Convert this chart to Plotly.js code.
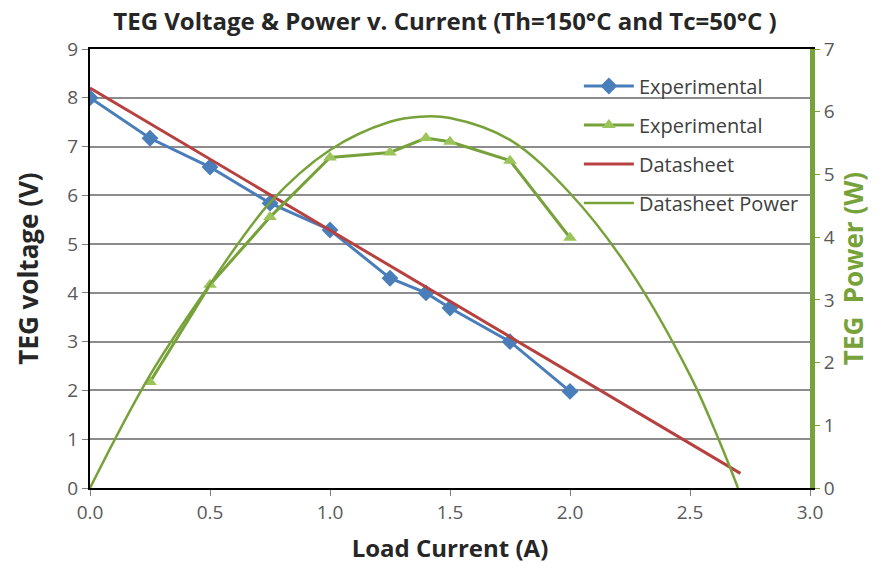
<!DOCTYPE html>
<html>
<head>
<meta charset="utf-8">
<script src="https://cdn.plot.ly/plotly-3.0.1.min.js"></script>
<style>html,body{margin:0;padding:0;background:#fff}#chart{width:890px;height:569px}</style>
</head>
<body>
<div id="chart"></div>
<script>
// Experimental voltage (left axis)
const expCurrentV = [0, 0.25, 0.5, 0.75, 1.0, 1.25, 1.4, 1.5, 1.75, 2.0];
const expVoltage  = [8.0, 7.17, 6.58, 5.84, 5.29, 4.3, 4.0, 3.69, 3.0, 1.98];
// Experimental power (right axis)
const expCurrentP = [0.25, 0.5, 0.75, 1.0, 1.25, 1.4, 1.5, 1.75, 2.0];
const expPower    = [1.69, 3.24, 4.32, 5.27, 5.35, 5.58, 5.52, 5.22, 3.99];
// Datasheet voltage (left axis)
const dsCurrentV = [0, 2.71];
const dsVoltage  = [8.2, 0.3];
// Datasheet power (right axis)
const dsCurrentP = [0, 0.25, 0.5, 0.75, 1.0, 1.25, 1.375, 1.5, 1.75, 2.0, 2.25, 2.5, 2.62, 2.7];
const dsPower    = [0, 1.8, 3.25, 4.55, 5.39, 5.84, 5.92, 5.9, 5.55, 4.7, 3.47, 1.8, 0.77, 0];
const xTicks = [0, 0.5, 1.0, 1.5, 2.0, 2.5, 3.0];

const FONT = "Open Sans, sans-serif";
const greenLine = '#77a23a';
const greenMark = '#9bc45a';

const traces = [
  {x: expCurrentV, y: expVoltage, name: 'Experimental', mode: 'lines+markers', legendgroup: 'a',
   line: {color: '#4a7ebb', width: 3}, marker: {symbol: 'diamond', size: 13, color: '#4a7ebb'}},
  {x: expCurrentP, y: expPower, name: 'Experimental', mode: 'lines+markers', yaxis: 'y2', legendgroup: 'b',
   line: {color: greenLine, width: 3}, marker: {symbol: 'triangle-up', size: 12, color: greenMark}},
  {x: dsCurrentV, y: dsVoltage, name: 'Datasheet', mode: 'lines', legendgroup: 'c',
   line: {color: '#b6413e', width: 3}},
  {x: dsCurrentP, y: dsPower, name: 'Datasheet Power', mode: 'lines', yaxis: 'y2', legendgroup: 'd',
   line: {color: greenLine, width: 2.5, shape: 'spline', smoothing: 1}}
];

const layout = {
  width: 890, height: 569,
  margin: {l: 90, r: 80, t: 49, b: 81},
  paper_bgcolor: '#fff', plot_bgcolor: '#fff',
  font: {family: FONT, color: '#595959', size: 19},
  title: {text: 'TEG Voltage & Power v. Current (Th=150°C and Tc=50°C )',
          font: {family: FONT, size: 24, color: '#262626', weight: 'bold'},
          x: 0.5, xanchor: 'center', y: 0.976, yanchor: 'top'},
  xaxis: {range: [0, 3], tickvals: xTicks, ticktext: xTicks.map(v => v.toFixed(1)),
          showgrid: false, zeroline: false, showline: true, linecolor: '#000', linewidth: 2,
          mirror: true, ticks: 'outside', ticklen: 6, tickcolor: '#808080',
          tickfont: {size: 19, color: '#595959'},
          title: {text: 'Load Current (A)', font: {size: 24, color: '#262626', weight: 'bold'}, standoff: 16}},
  yaxis: {range: [0, 9], dtick: 1, showgrid: true, gridcolor: '#8c8c8c', gridwidth: 2,
          zeroline: false, showline: true, linecolor: '#000', linewidth: 2,
          ticks: 'outside', ticklen: 6, tickcolor: '#808080',
          tickfont: {size: 19, color: '#595959'},
          title: {text: 'TEG voltage (V)', font: {size: 26, color: '#262626', weight: 'bold'}, standoff: 21}},
  yaxis2: {range: [0, 7], dtick: 1, overlaying: 'y', side: 'right', showgrid: false,
           zeroline: false, showline: true, linecolor: greenLine, linewidth: 5,
           ticks: 'outside', ticklen: 5, tickcolor: greenLine,
           tickfont: {size: 19, color: '#595959'},
           title: {text: 'TEG  Power (W)', font: {size: 26, color: '#77a23a', weight: 'bold'}, standoff: 5}},
  showlegend: true,
  legend: {x: 0.679, xanchor: 'left', y: 0.96, yanchor: 'top', bgcolor: 'rgba(0,0,0,0)',
           font: {size: 20, color: '#404040'}, tracegroupgap: 10, traceorder: 'grouped', itemwidth: 50}
};

Plotly.newPlot('chart', traces, layout, {displayModeBar: false, staticPlot: true});
</script>
</body>
</html>
